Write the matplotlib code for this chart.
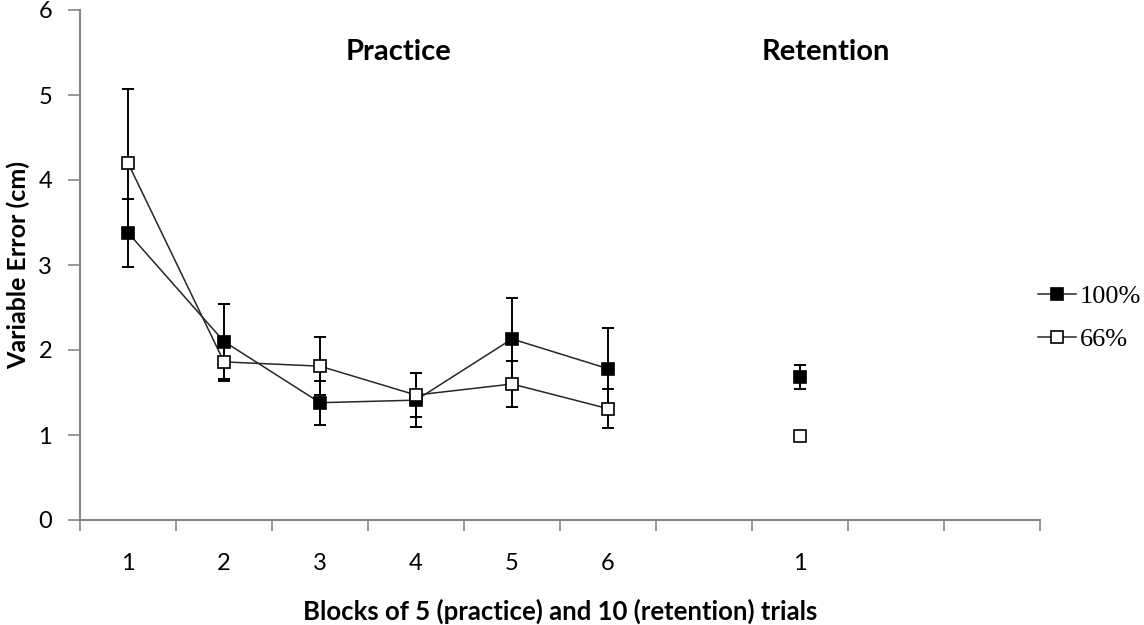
import numpy as np
import matplotlib
matplotlib.use("Agg")
import matplotlib.pyplot as plt

# category slots on the x axis (Excel style, 10 slots, labels only on some)
slot_labels = ["1", "2", "3", "4", "5", "6", "", "1", "", ""]

# practice blocks 1-6, retention block in slot 8
practice_x = [1, 2, 3, 4, 5, 6]
retention_x = [8]

full_practice = [3.38, 2.10, 1.38, 1.41, 2.13, 1.78]
full_practice_err = [0.40, 0.44, 0.26, 0.32, 0.48, 0.48]
full_retention = [1.68]
full_retention_err = [0.14]

reduced_practice = [4.20, 1.86, 1.81, 1.47, 1.60, 1.31]
reduced_practice_err = [0.87, 0.23, 0.34, 0.26, 0.27, 0.23]
reduced_retention = [0.99]
reduced_retention_err = [0.04]

axis_grey = "#868686"
sans = ["Lato", "DejaVu Sans"]
serif = ["Liberation Serif", "DejaVu Serif"]

fig = plt.figure(figsize=(11.44, 6.25), dpi=100)
ax = fig.add_axes([80 / 1144, 105 / 625, 960 / 1144, 510 / 625])

marker_kw = dict(marker="s", markersize=9, markeredgecolor="black", markeredgewidth=1.2)
err_kw = dict(ecolor="black", elinewidth=1.4, capsize=4, capthick=1.4, linestyle="none")

# error bars first so markers sit on top
ax.errorbar(practice_x, full_practice, yerr=full_practice_err, zorder=2, **err_kw)
ax.errorbar(practice_x, reduced_practice, yerr=reduced_practice_err, zorder=2, **err_kw)
ax.errorbar(retention_x, full_retention, yerr=full_retention_err, zorder=2, **err_kw)
ax.errorbar(retention_x, reduced_retention, yerr=reduced_retention_err, zorder=2, **err_kw)

ax.plot(practice_x, full_practice, color="#262626", linewidth=1.1, markerfacecolor="black",
        zorder=3, label="100%", **marker_kw)
ax.plot(practice_x, reduced_practice, color="#262626", linewidth=1.1, markerfacecolor="white",
        zorder=4, label="66%", **marker_kw)
ax.plot(retention_x, full_retention, linestyle="none", markerfacecolor="black", zorder=3, **marker_kw)
ax.plot(retention_x, reduced_retention, linestyle="none", markerfacecolor="white", zorder=4, **marker_kw)

ax.set_xlim(0.5, 10.5)
ax.set_ylim(0, 6)
ax.set_yticks(range(0, 7))

# labels at slot centres, tick marks at slot boundaries
ax.set_xticks(np.arange(1, 11))
ax.set_xticklabels(slot_labels)
ax.set_xticks(np.arange(0.5, 11.0, 1.0), minor=True)
ax.tick_params(axis="x", which="major", length=0, pad=24)
ax.tick_params(axis="x", which="minor", length=8, width=1.2, color=axis_grey, direction="out")
ax.tick_params(axis="y", length=9, width=1.2, color=axis_grey, direction="out", pad=11)

for lab in ax.get_xticklabels() + ax.get_yticklabels():
    lab.set_family(sans)
    lab.set_fontsize(17)

for side in ["top", "right"]:
    ax.spines[side].set_visible(False)
for side in ["left", "bottom"]:
    ax.spines[side].set_color(axis_grey)
    ax.spines[side].set_linewidth(1.5)

ax.set_ylabel("Variable Error (cm)", family=sans, fontsize=18, fontweight="bold")
ax.yaxis.set_label_coords(-0.052, 0.5)
ax.set_xlabel("Blocks of 5 (practice) and 10 (retention) trials", family=sans, fontsize=18.5,
              fontweight="bold")
ax.xaxis.set_label_coords(0.5, -0.155)

ax.text(3.82, 5.5, "Practice", family=sans, fontsize=21, fontweight="bold", ha="center", va="center")
ax.text(8.27, 5.5, "Retention", family=sans, fontsize=21, fontweight="bold", ha="center", va="center")

leg = ax.legend(loc="center left", bbox_to_anchor=(0.998, 0.396), frameon=False,
                prop={"family": serif, "size": 19}, handlelength=1.44, handletextpad=0.15,
                labelspacing=0.75, borderaxespad=0, borderpad=0)

for artist in ax.lines:
    artist.set_clip_on(False)

fig.savefig("out.png", dpi=100)
